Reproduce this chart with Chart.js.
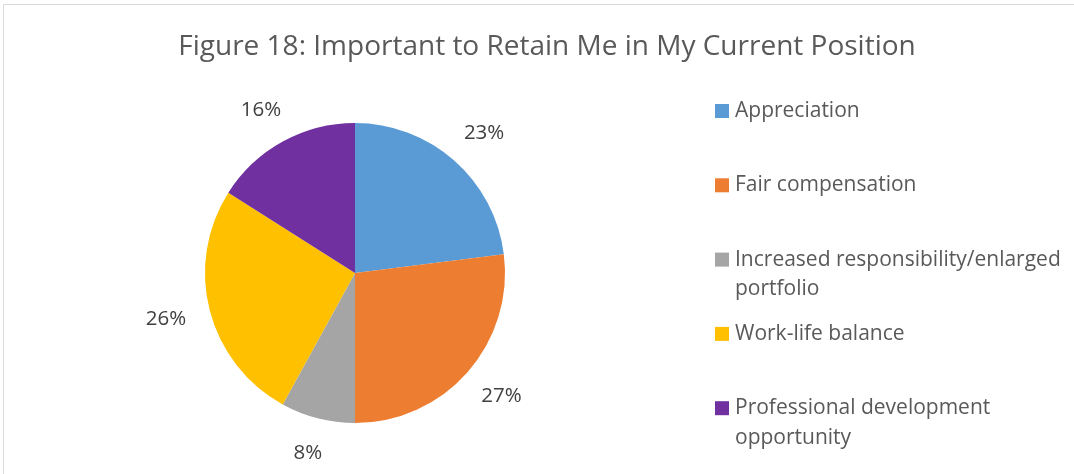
<!DOCTYPE html>
<html>
<head>
<meta charset="utf-8">
<script src="https://cdn.jsdelivr.net/npm/chart.js@4.4.1/dist/chart.umd.min.js"></script>
<style>
  html, body { margin: 0; padding: 0; background: #ffffff; }
  #wrap { width: 1074px; height: 474px; position: relative; }
</style>
</head>
<body>
<div id="wrap"><canvas id="c" width="1074" height="474"></canvas></div>
<script>
const titleText = 'Figure 18: Important to Retain Me in My Current Position';
const categories = ['Appreciation', 'Fair compensation', 'Increased responsibility/enlarged portfolio', 'Work-life balance', 'Professional development opportunity'];
const values = [23, 27, 8, 26, 16];
const colors = ['#5B9BD5', '#ED7D31', '#A5A5A5', '#FFC000', '#7030A0'];

const FONT = '"Open Sans", Lato, sans-serif';

const framePlugin = {
  id: 'frame',
  beforeDraw(chart) {
    const ctx = chart.ctx;
    ctx.save();
    ctx.fillStyle = '#ffffff';
    ctx.fillRect(0, 0, chart.width, chart.height);
    ctx.strokeStyle = '#d9d9d9';
    ctx.lineWidth = 1;
    ctx.beginPath();
    ctx.moveTo(3.5, chart.height);
    ctx.lineTo(3.5, 4.5);
    ctx.lineTo(chart.width, 4.5);
    ctx.stroke();
    // title, centred on the chart frame
    ctx.font = '28px ' + FONT;
    ctx.fillStyle = '#595959';
    ctx.textAlign = 'center';
    ctx.textBaseline = 'alphabetic';
    ctx.fillText(titleText, 547, 55);
    ctx.restore();
  }
};

const outsideLabels = {
  id: 'outsideLabels',
  afterDatasetsDraw(chart) {
    const ctx = chart.ctx;
    const meta = chart.getDatasetMeta(0);
    ctx.save();
    ctx.font = '20.5px ' + FONT;
    ctx.fillStyle = '#404040';
    ctx.textAlign = 'center';
    ctx.textBaseline = 'middle';
    meta.data.forEach((arc, i) => {
      const p = arc.getProps(['x', 'y', 'startAngle', 'endAngle', 'outerRadius'], true);
      const mid = (p.startAngle + p.endAngle) / 2;
      const txt = chart.data.datasets[0].data[i] + '%';
      const w = ctx.measureText(txt).width;
      const h = 22;
      const r = p.outerRadius + 25;
      const ax = p.x + Math.cos(mid) * r;
      const ay = p.y + Math.sin(mid) * r;
      const cx = ax + Math.cos(mid) * w / 2;
      const cy = ay + Math.sin(mid) * h / 2;
      ctx.fillText(txt, cx, cy);
    });
    ctx.restore();
  }
};

const sideLegend = {
  id: 'sideLegend',
  afterDraw(chart) {
    const ctx = chart.ctx;
    const x0 = chart.chartArea.right + 25;
    const maxW = chart.width - x0 - 14;
    const y0 = 111;
    const pitch = 74.3;
    const lineH = 29.5;
    ctx.save();
    ctx.font = '21px ' + FONT;
    ctx.textBaseline = 'middle';
    ctx.textAlign = 'left';
    chart.data.labels.forEach((lab, i) => {
      const y = y0 + i * pitch;
      ctx.fillStyle = chart.data.datasets[0].backgroundColor[i];
      ctx.fillRect(x0, y - 7, 14, 14);
      const words = lab.split(' ');
      const lines = [];
      let cur = '';
      words.forEach(wd => {
        const test = cur ? cur + ' ' + wd : wd;
        if (ctx.measureText(test).width > maxW && cur) { lines.push(cur); cur = wd; }
        else cur = test;
      });
      if (cur) lines.push(cur);
      ctx.fillStyle = '#595959';
      lines.forEach((ln, k) => ctx.fillText(ln, x0 + 20, y + k * lineH));
    });
    ctx.restore();
  }
};

new Chart(document.getElementById('c'), {
  type: 'pie',
  data: {
    labels: categories,
    datasets: [{
      data: values,
      backgroundColor: colors,
      borderColor: '#ffffff',
      borderWidth: 0
    }]
  },
  options: {
    responsive: false,
    animation: false,
    events: [],
    layout: { padding: { left: 20, right: 384, top: 123, bottom: 51 } },
    plugins: {
      legend: { display: false },
      tooltip: { enabled: false },
      title: { display: false }
    }
  },
  plugins: [framePlugin, outsideLabels, sideLegend]
});
</script>
</body>
</html>
